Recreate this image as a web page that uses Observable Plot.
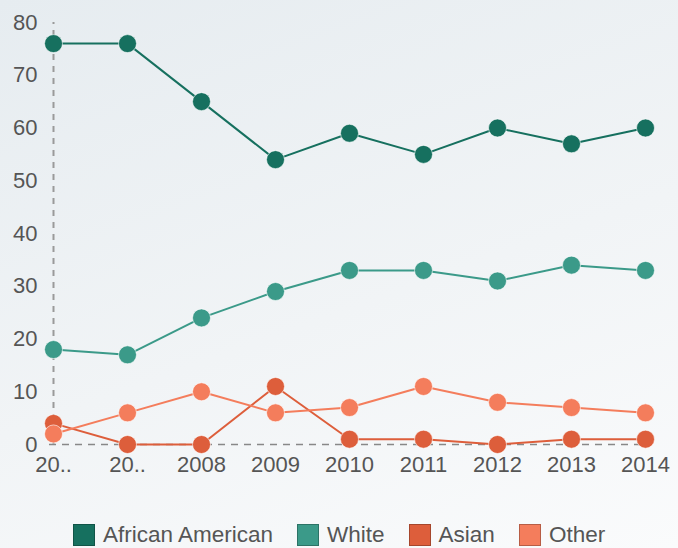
<!DOCTYPE html>
<html>
<head>
<meta charset="utf-8">
<script src="https://cdn.jsdelivr.net/npm/d3@7"></script>
<script src="https://cdn.jsdelivr.net/npm/@observablehq/plot@0.6"></script>
<style>
  html, body { margin: 0; padding: 0; }
  body {
    width: 678px; height: 548px; overflow: hidden;
    background: linear-gradient(160deg, #e6ecf0 0%, #f1f4f6 55%, #fafbfc 100%);
    font-family: "Liberation Sans", Arial, sans-serif;
  }
  #chart svg { display: block; }
  #legend {
    display: flex; justify-content: flex-start; white-space: nowrap;
    padding-left: 73px; padding-top: 5px; height: 26px; line-height: 26px; font-size: 22.5px; color: #555;
  }
  #legend .item { display: flex; align-items: center; margin-right: 24px; }
  #legend .sw { width: 22px; height: 22px; margin-right: 8px; box-sizing: border-box; border: 1.5px solid rgba(0,0,0,0.25); }
</style>
</head>
<body>
<div id="chart"></div>
<div id="legend"></div>
<script>
const years = [2006, 2007, 2008, 2009, 2010, 2011, 2012, 2013, 2014];
const yearLabels = ["20..", "20..", "2008", "2009", "2010", "2011", "2012", "2013", "2014"];
const seriesNames = ["African American", "White", "Asian", "Other"];
const seriesColors = ["#16705f", "#3b9a89", "#dd5e3b", "#f47d5c"];
const africanAmerican = [76, 76, 65, 54, 59, 55, 60, 57, 60];
const white = [18, 17, 24, 29, 33, 33, 31, 34, 33];
const asian = [4, 0, 0, 11, 1, 1, 0, 1, 1];
const other = [2, 6, 10, 6, 7, 11, 8, 7, 6];
const yTicks = [0, 10, 20, 30, 40, 50, 60, 70, 80];

const seriesValues = [africanAmerican, white, asian, other];
const data = [];
seriesNames.forEach((name, i) => {
  years.forEach((yr, j) => data.push({series: name, year: String(yr), value: seriesValues[i][j]}));
});
const labelOf = new Map(years.map((y, i) => [String(y), yearLabels[i]]));

const chart = Plot.plot({
  width: 678,
  height: 517,
  marginLeft: 49,
  marginRight: 30,
  marginTop: 22,
  marginBottom: 73,
  style: {background: "transparent", fontFamily: "'Liberation Sans', Arial, sans-serif", fontSize: "22px", color: "#555"},
  x: {type: "point", domain: years.map(String), padding: 0},
  y: {domain: [0, 80]},
  color: {domain: seriesNames, range: seriesColors},
  marks: [
    Plot.ruleX([years[0]].map(String), {stroke: "#9a9a9a", strokeWidth: 2, strokeDasharray: "6,6", y1: 0, y2: 80}),
    Plot.ruleY([0], {stroke: "#888", strokeWidth: 1.5, strokeDasharray: "7,6"}),
    Plot.axisY({ticks: yTicks, tickSize: 0, tickPadding: 12, fill: "#555", fontSize: 22, label: null}),
    Plot.axisX({tickSize: 0, tickPadding: 12, tickFormat: d => labelOf.get(d), fill: "#555", fontSize: 22, label: null}),
    Plot.line(data, {x: "year", y: "value", z: "series", stroke: "series", strokeWidth: 2}),
    Plot.dot(data, {x: "year", y: "value", fill: "series", r: 9, stroke: "white", strokeOpacity: 0.6, strokeWidth: 1})
  ]
});
document.getElementById("chart").appendChild(chart);

const legend = document.getElementById("legend");
seriesNames.forEach((name, i) => {
  const item = document.createElement("div");
  item.className = "item";
  const sw = document.createElement("span");
  sw.className = "sw";
  sw.style.background = seriesColors[i];
  item.appendChild(sw);
  item.appendChild(document.createTextNode(name));
  legend.appendChild(item);
});
</script>
</body>
</html>
